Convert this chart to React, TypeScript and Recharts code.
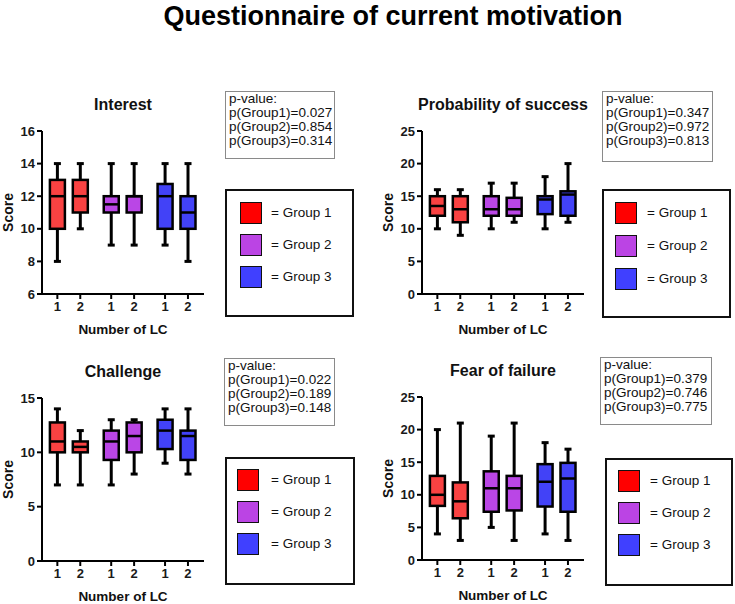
import React from 'react'
import { BarChart, Bar, XAxis, YAxis, Label } from 'recharts'

const FONT = '"Liberation Sans", Arial, Helvetica, sans-serif'

// x slots: two LC levels per group, with a wider gap between groups
const lcLabels = ['1', '2', '1', '2', '1', '2']
const lcSlots = [1, 2, 3.35, 4.35, 5.7, 6.7]
const boxGroups = [0, 0, 1, 1, 2, 2]
const groupNames = ['Group 1', 'Group 2', 'Group 3']

const boxColors = ['#F94242', '#BA46E6', '#4242F7']
const legendColors = ['#FF0000', '#BB44E4', '#4040FF']

// each box: [min, Q1, median, Q3, max]
const interestBoxes = [
  [8, 10, 12, 13, 14],
  [10, 11, 12, 13, 14],
  [9, 11, 11.5, 12, 14],
  [9, 11, 12, 12, 14],
  [9, 10, 12, 12.75, 14],
  [8, 10, 11, 12, 14],
]
const successBoxes = [
  [10, 12, 13.5, 15, 16],
  [9, 11, 13, 15, 16],
  [10, 12, 13, 15, 17],
  [11, 12, 13, 14.75, 17],
  [10, 12.25, 14.5, 15, 18],
  [11, 12, 15.25, 15.75, 20],
]
const challengeBoxes = [
  [7, 10, 11, 12.75, 14],
  [7, 10, 10.5, 11, 12],
  [7, 9.3, 11, 12, 13],
  [8, 10, 11.5, 12.75, 13],
  [9, 10.3, 12, 13, 14],
  [8, 9.3, 11.5, 12, 14],
]
const fearBoxes = [
  [4, 8.3, 10, 12.9, 20],
  [3, 6.4, 9, 11.9, 21],
  [5, 7.4, 11, 13.6, 19],
  [3, 7.6, 11, 12.9, 21],
  [4, 8.2, 12, 14.7, 18],
  [3, 7.4, 12.5, 14.9, 17],
]

const interestP = ['0.027', '0.854', '0.314']
const successP = ['0.347', '0.972', '0.813']
const challengeP = ['0.022', '0.189', '0.148']
const fearP = ['0.379', '0.746', '0.775']

const interestTicks = [6, 8, 10, 12, 14, 16]
const twentyFiveTicks = [0, 5, 10, 15, 20, 25]
const challengeTicks = [0, 5, 10, 15]

const panels = [
  {
    title: 'Interest', boxes: interestBoxes, pvals: interestP, yDomain: [6, 16], yTicks: interestTicks,
    plotLeft: 42, plotTop: 131,
    pBox: { left: 225, top: 91, w: 110, h: 68 },
    legend: { left: 225, top: 189, w: 129, h: 128, sqLeft: 13, sqTop: 11, gap: 32, textLeft: 44 },
  },
  {
    title: 'Probability of success', boxes: successBoxes, pvals: successP, yDomain: [0, 25], yTicks: twentyFiveTicks,
    plotLeft: 422, plotTop: 131,
    pBox: { left: 602, top: 91, w: 111, h: 71 },
    legend: { left: 602, top: 189, w: 129, h: 129, sqLeft: 11, sqTop: 11, gap: 33, textLeft: 43 },
  },
  {
    title: 'Challenge', boxes: challengeBoxes, pvals: challengeP, yDomain: [0, 15], yTicks: challengeTicks,
    plotLeft: 42, plotTop: 398,
    pBox: { left: 224, top: 358, w: 111, h: 68 },
    legend: { left: 225, top: 457, w: 130, h: 128, sqLeft: 10, sqTop: 10, gap: 32, textLeft: 44 },
  },
  {
    title: 'Fear of failure', boxes: fearBoxes, pvals: fearP, yDomain: [0, 25], yTicks: twentyFiveTicks,
    plotLeft: 422, plotTop: 397,
    pBox: { left: 600, top: 357, w: 112, h: 68 },
    legend: { left: 605, top: 458, w: 128, h: 128, sqLeft: 11, sqTop: 10, gap: 32, textLeft: 43 },
  },
]

const CHART_W = 215
const CHART_H = 245
const MARGIN = { top: 31, right: 11, left: 12, bottom: 20 }

function BoxShape(props: any) {
  const { x, y, width, height } = props
  const d = props.payload ?? props
  if (d == null || height == null || !isFinite(y)) return null
  const span = d.max - d.min
  const py = (v: number) => y + ((d.max - v) / span) * height
  const cx = x + width / 2
  const k = '#000'
  return (
    <g>
      <line x1={cx} x2={cx} y1={py(d.max)} y2={py(d.q3)} stroke={k} strokeWidth={3} />
      <line x1={cx} x2={cx} y1={py(d.q1)} y2={py(d.min)} stroke={k} strokeWidth={3} />
      <line x1={cx - 3.5} x2={cx + 3.5} y1={py(d.max)} y2={py(d.max)} stroke={k} strokeWidth={3} />
      <line x1={cx - 3.5} x2={cx + 3.5} y1={py(d.min)} y2={py(d.min)} stroke={k} strokeWidth={3} />
      <rect x={x} y={py(d.q3)} width={width} height={py(d.q1) - py(d.q3)}
        fill={boxColors[d.group]} stroke={k} strokeWidth={2.5} />
      <line x1={x} x2={x + width} y1={py(d.med)} y2={py(d.med)} stroke={k} strokeWidth={2.5} />
    </g>
  )
}

const tickStyle = { fill: '#1a1a1a', fontSize: 13, fontWeight: 'bold', fontFamily: FONT }
const axisLine = { stroke: '#000', strokeWidth: 2 }

function Panel({ cfg }: { cfg: any }) {
  const data = cfg.boxes.map((b: number[], i: number) => ({
    x: lcSlots[i], group: boxGroups[i],
    min: b[0], q1: b[1], med: b[2], q3: b[3], max: b[4],
  }))
  const plotW = CHART_W - MARGIN.left - 30 - MARGIN.right
  const { pBox, legend } = cfg
  return (
    <>
      <div style={{
        position: 'absolute', left: cfg.plotLeft - 40, width: plotW + 80, top: cfg.plotTop - 34,
        textAlign: 'center', fontSize: 16, lineHeight: '16px', fontWeight: 'bold', color: '#111',
        whiteSpace: 'nowrap',
      }}>{cfg.title}</div>
      <div style={{ position: 'absolute', left: cfg.plotLeft - 42, top: cfg.plotTop - 31 }}>
        <BarChart width={CHART_W} height={CHART_H} data={data} margin={MARGIN}>
          <XAxis type="number" dataKey="x" domain={[0.33, 7.4]} ticks={lcSlots} interval={0}
            tickFormatter={(v: number) => lcLabels[lcSlots.indexOf(v)] ?? ''}
            height={31} tick={tickStyle} tickSize={5} tickMargin={3}
            axisLine={axisLine} tickLine={axisLine} allowDataOverflow>
            <Label content={(p: any) => {
              const vb = p.viewBox
              return (
                <text x={vb.x + vb.width / 2} y={vb.y + 35} textAnchor="middle" dominantBaseline="central"
                  fontSize={13.5} fontWeight="bold" fill="#111" fontFamily={FONT}>Number of LC</text>
              )
            }} />
          </XAxis>
          <YAxis type="number" domain={cfg.yDomain} ticks={cfg.yTicks} interval={0} width={30}
            tick={tickStyle} tickSize={5} tickMargin={2} axisLine={axisLine} tickLine={axisLine}
            allowDataOverflow>
            <Label content={(p: any) => {
              const vb = p.viewBox
              const cx = vb.x - 4
              const cy = vb.y + vb.height / 2
              return (
                <text x={cx} y={cy} textAnchor="middle" dominantBaseline="central"
                  transform={`rotate(-90, ${cx}, ${cy})`}
                  fontSize={14} fontWeight="bold" fill="#111" fontFamily={FONT}>Score</text>
              )
            }} />
          </YAxis>
          <Bar dataKey={(d: any) => [d.min, d.max]} barSize={15} shape={<BoxShape />} isAnimationActive={false} />
        </BarChart>
      </div>
      <div style={{
        position: 'absolute', left: pBox.left, top: pBox.top, width: pBox.w, height: pBox.h,
        boxSizing: 'border-box', border: '1px solid #8a8a8a', padding: '0 0 0 3px',
        fontSize: 13.5, lineHeight: '14px', color: '#111', background: '#fff',
      }}>
        <div>p-value:</div>
        {cfg.pvals.map((p: string, i: number) => (
          <div key={i}>{`p(Group${i + 1})=${p}`}</div>
        ))}
      </div>
      <div style={{
        position: 'absolute', left: legend.left, top: legend.top, width: legend.w, height: legend.h,
        boxSizing: 'border-box', border: '2px solid #111', background: '#fff',
      }}>
        {groupNames.map((g, i) => (
          <React.Fragment key={g}>
            <div style={{
              position: 'absolute', left: legend.sqLeft, top: legend.sqTop + i * legend.gap,
              width: 22, height: 22, boxSizing: 'border-box', border: '1.5px solid #111',
              background: legendColors[i],
            }} />
            <div style={{
              position: 'absolute', left: legend.textLeft, top: legend.sqTop + i * legend.gap + 3,
              fontSize: 13.5, lineHeight: '16px', color: '#111', whiteSpace: 'nowrap',
            }}>{`= ${g}`}</div>
          </React.Fragment>
        ))}
      </div>
    </>
  )
}

export default function App() {
  return (
    <div style={{
      position: 'absolute', left: 0, top: 0, width: 735, height: 604, overflow: 'hidden',
      background: '#fff', fontFamily: FONT,
    }}>
      <div style={{
        position: 'absolute', left: 143, width: 500, top: 1, textAlign: 'center',
        fontSize: 27, lineHeight: '31px', fontWeight: 'bold', color: '#000', whiteSpace: 'nowrap',
      }}>Questionnaire of current motivation</div>
      {panels.map((cfg) => (
        <Panel key={cfg.title} cfg={cfg} />
      ))}
    </div>
  )
}
